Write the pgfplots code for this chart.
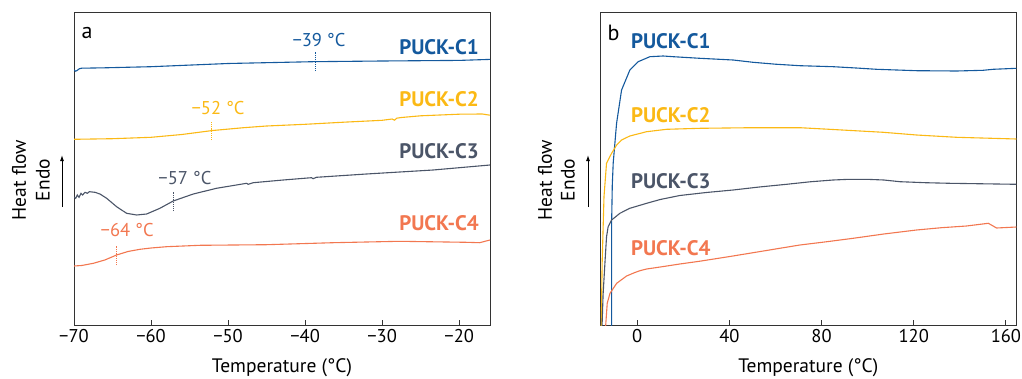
\documentclass[border=0pt]{standalone}
\usepackage{pgfplots}
\pgfplotsset{compat=1.18}
\usetikzlibrary{arrows.meta}
\usepackage{fontspec}
\setmainfont{PT Sans}
\definecolor{cA}{HTML}{14599D}
\definecolor{cB}{HTML}{FBB915}
\definecolor{cC}{HTML}{4B5568}
\definecolor{cD}{HTML}{F27750}
\definecolor{axc}{HTML}{333333}
\newcommand{\fs}{\fontsize{18.5}{20}\selectfont}
\newcommand{\fl}{\fontsize{19.5}{22}\selectfont}
\newcommand{\fb}{\fontsize{21}{23}\selectfont\bfseries}
\pgfplotsset{myax/.style={
  scale only axis, width=416pt, height=312pt,
  ymin=0, ymax=312, ytick=\empty,
  xtick pos=left, tick align=inside, major tick length=5pt,
  axis line style={line width=1pt, axc},
  every tick/.style={line width=1pt, axc},
  tick label style={font=\fs},
  xticklabel style={yshift=-1pt},
  label style={font=\fl},
  xlabel={Temperature (°C)},
  xlabel style={yshift=-9pt},
  every axis plot/.append style={line width=1.1pt},
  clip=true,
}}
\begin{document}
\begin{tikzpicture}[x=1pt,y=1pt]
\path[use as bounding box] (-74pt,-53pt) rectangle (948pt,325pt);
% ---------- panel a ----------
\begin{axis}[myax, at={(0pt,0pt)}, anchor=south west,
  xmin=-70, xmax=-16,
  xtick={-70,-60,-50,-40,-30,-20},
  xticklabels={−70,−60,−50,−40,−30,−20}]
\addplot[cA] coordinates {(-70,255) (-69.8,253.8) (-69.6,254.5) (-69.3,256.3) (-69,256.8) (-66,257.2) (-60,258.3) (-50,261.5) (-39,263.3) (-30,264) (-20,264.6) (-16,265.6)};
\addplot[cB] coordinates {(-70,185.7) (-65,186.3) (-60,187.7) (-56,190.5) (-52,194.5) (-48,197.3) (-45,199) (-40,200.7) (-35,202.8) (-30,204.7) (-28.7,206) (-28.4,204.8) (-28.1,206.8) (-27.5,207.5) (-25,209.2) (-20,210.8) (-17,211) (-16,209.8)};
\addplot[cC] coordinates {(-70,128) (-69.78,126.7) (-69.57,130) (-69.35,127.7) (-69.09,131.7) (-68.88,130) (-68.57,132.7) (-68.27,131.7) (-68.01,133.3) (-67.28,132.7) (-66.63,131) (-65.76,126.7) (-64.47,118.3) (-63.17,111.7) (-61.87,110) (-60.57,111) (-58.85,116.7) (-57.12,124) (-54.52,131) (-51.5,136.7) (-47.6,141.7) (-47.39,140.7) (-46.74,142.3) (-42.85,145) (-39.17,147.3) (-38.96,146.3) (-38.53,147.7) (-32.04,151) (-23.39,155) (-16,160)};
\addplot[cD] coordinates {(-70,59) (-69,59.5) (-67.49,61.7) (-66,65) (-64.47,70) (-63,73.5) (-61.44,75.7) (-60,77) (-57.98,78.3) (-53.66,79.7) (-45,80.3) (-36.36,82.3) (-27.72,83.7) (-19.07,82.7) (-17.34,82.3) (-16,85)};
\addplot[cA, densely dotted, line width=0.9pt] coordinates {(-38.7,254) (-38.7,273)};
\addplot[cB, densely dotted, line width=0.9pt] coordinates {(-52.2,185) (-52.2,203)};
\addplot[cC, densely dotted, line width=0.9pt] coordinates {(-57.1,114) (-57.1,133)};
\addplot[cD, densely dotted, line width=0.9pt] coordinates {(-64.5,60) (-64.5,79)};
\node[font=\fs, text=cA] at (axis cs:-38.2,285) {−39 °C};
\node[font=\fs, text=cB] at (axis cs:-51.3,217) {−52 °C};
\node[font=\fs, text=cC] at (axis cs:-55.6,147) {−57 °C};
\node[font=\fs, text=cD] at (axis cs:-63.1,95) {−64 °C};
\node[font=\fb, text=cA, anchor=east] at (axis cs:-17,278.3) {PUCK-C1};
\node[font=\fb, text=cB, anchor=east] at (axis cs:-17,226) {PUCK-C2};
\node[font=\fb, text=cC, anchor=east] at (axis cs:-17,174.3) {PUCK-C3};
\node[font=\fb, text=cD, anchor=east] at (axis cs:-17,101.7) {PUCK-C4};
\node[font=\fontsize{22}{24}\selectfont] at (axis cs:-68.3,292) {a};
\end{axis}
% ---------- panel b ----------
\begin{axis}[myax, at={(526.3pt,0pt)}, anchor=south west,
  xmin=-16, xmax=164.5,
  xtick={0,40,80,120,160},
  xticklabels={0,40,80,120,160}]
\addplot[cA] coordinates {(-11.1,-5) (-11.1,100) (-10.8,140) (-10.4,162) (-8.94,201.7) (-6.77,235) (-3.17,255) (0.43,263.3) (5.51,268.3) (11.28,269) (15.6,268.3) (27.2,266.7) (41.6,265) (50.3,262.7) (60,260.8) (70.6,259.3) (85,258.3) (95,257) (103.9,255.7) (121.2,254.3) (138.6,254) (150.1,254.7) (154.4,255.7) (164.6,256.7)};
\addplot[cB] coordinates {(-15.6,-5) (-15.2,61.7) (-14.4,128.3) (-13.3,161.7) (-11.1,171.7) (-8.9,180) (-6.8,185) (-3.2,189) (4.1,193.3) (12.8,195.7) (27.2,196.7) (50,197.3) (70.6,197.3) (85,195.5) (106.8,192.7) (121.2,190) (138.6,187.7) (164.6,186)};
\addplot[cC] coordinates {(-15.3,-5) (-14.8,30) (-14.0,61.7) (-13.3,88) (-12.6,98.3) (-11.1,105) (-7.5,111.7) (-3.2,116.7) (4.1,121.7) (10,125.5) (18.5,129.5) (30,132.5) (41.6,135) (53,138) (64.8,140.7) (75,143.2) (85,145) (92,145.7) (99.5,145.7) (107,145) (114,143.3) (125,142.3) (135.7,141.7) (164.6,140.7)};
\addplot[cD] coordinates {(-13.8,-5) (-13.0,21.7) (-11.8,31.7) (-8.9,41.7) (-4.6,49) (-1,52.5) (1.2,54.3) (4.1,56) (10,58) (18.5,61) (27.2,63.8) (40.2,68.5) (50.3,72.3) (60,76) (70.6,80) (82,83.2) (93.7,86.7) (107,91) (121.2,95) (132,97.3) (142.9,99) (152.3,101.7) (153.7,100) (155.9,97) (164.6,98)};
\node[font=\fb, text=cA, anchor=west] at (axis cs:-4.2,284.3) {PUCK-C1};
\node[font=\fb, text=cB, anchor=west] at (axis cs:-4.2,210) {PUCK-C2};
\node[font=\fb, text=cC, anchor=west] at (axis cs:-4.2,144) {PUCK-C3};
\node[font=\fb, text=cD, anchor=west] at (axis cs:-4.2,77.3) {PUCK-C4};
\node[font=\fontsize{22}{24}\selectfont] at (axis cs:-10.3,292.5) {b};
\end{axis}
% ---------- y labels ----------
\node[font=\fl, rotate=90] at (-55,145) {Heat flow};
\node[font=\fl, rotate=90] at (-31,145) {Endo};
\draw[-{Latex[length=6pt,width=4pt]}, line width=1pt] (-12,118) -- (-12,170);
\node[font=\fl, rotate=90] at (471,145) {Heat flow};
\node[font=\fl, rotate=90] at (494,145) {Endo};
\draw[-{Latex[length=6pt,width=4pt]}, line width=1pt] (514,118) -- (514,170);
\end{tikzpicture}
\end{document}
